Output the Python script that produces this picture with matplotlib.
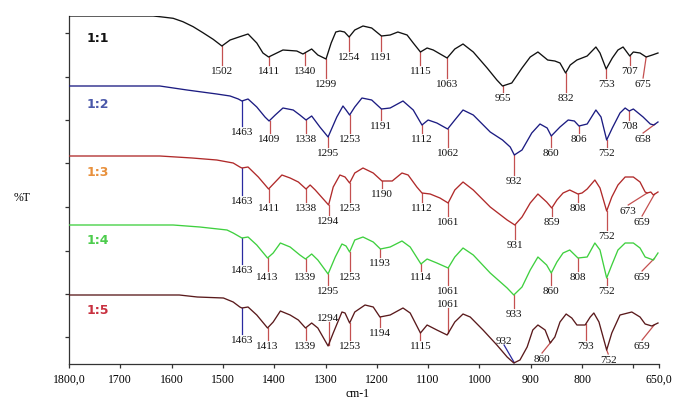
import numpy as np
import matplotlib.pyplot as plt

plt.rcParams['font.family'] = ['Liberation Serif', 'DejaVu Serif']

# ---- spectra (wavenumber cm-1, %T with stacking offset) ----
wn_1 = [1800, 1636, 1623, 1597, 1578, 1558, 1539, 1519, 1502, 1486, 1467, 1451, 1434,
        1422, 1411, 1395, 1383, 1356, 1344, 1327, 1315, 1299, 1289, 1280, 1272, 1263, 1254,
        1243, 1227, 1210, 1191, 1174, 1159, 1141, 1129, 1115, 1102, 1090, 1063, 1048, 1032,
        1012, 985, 966, 955, 937, 917, 901, 886, 867, 853, 843, 832, 823, 810, 790, 773, 765,
        753, 741, 730, 720, 707, 700, 687, 675, 663, 652]
t_1 = [348, 348, 347.3, 345.7, 342.3, 337.3, 331.3, 324.7, 318, 324, 327.3, 330, 321,
       311, 307, 311, 314, 313, 310, 315, 309, 305, 321, 332, 333, 332, 327,
       334, 338, 336, 328, 329, 332, 329, 321, 312, 316, 314, 306, 315, 320,
       312, 296, 284, 278, 281, 296, 307, 312, 304, 303, 301, 291, 299, 304, 308, 317, 311,
       295, 306, 314, 317, 308, 312, 311, 307, 309, 311]
pk_1 = [1502, 1411, 1340, 1299, 1254, 1191, 1115, 1063, 955, 832, 753, 707, 675]

wn_2 = [1800, 1623, 1570, 1512, 1486, 1470, 1463, 1451, 1434, 1418, 1410, 1398, 1383, 1363,
        1350, 1338, 1327, 1311, 1295, 1278, 1266, 1260, 1253, 1243, 1229, 1210, 1191, 1174,
        1149, 1129, 1112, 1100, 1083, 1062, 1048, 1032, 1012, 979, 955, 940, 932, 917, 898,
        882, 868, 860, 843, 827, 815, 806, 790, 773, 763, 752, 741, 726, 716, 708, 700, 681,
        667, 660, 652]
t_2 = [278, 278, 274, 270, 268, 265, 263, 265, 257, 247, 243, 249, 256, 254,
       249, 244, 248, 237, 227, 247, 258, 254, 249, 257, 266, 264, 255, 256,
       263, 254, 239, 244, 241, 235, 244, 254, 249, 232, 224, 217, 209, 214, 231,
       240, 236, 228, 237, 244, 243, 238, 240, 254, 247, 224, 236, 251, 256, 253, 255, 247,
       240, 239, 242]
pk_2 = [1463, 1409, 1338, 1295, 1253, 1191, 1112, 1062, 932, 860, 806, 752, 708, 658]

wn_3 = [1800, 1623, 1560, 1512, 1480, 1467, 1463, 1451, 1431, 1411, 1398, 1385, 1369, 1353,
        1338, 1330, 1320, 1294, 1285, 1272, 1262, 1253, 1243, 1227, 1207, 1190, 1170, 1151,
        1139, 1122, 1112, 1096, 1077, 1061, 1048, 1032, 1012, 979, 946, 931, 917, 901, 886,
        869, 859, 849, 837, 824, 808, 800, 790, 775, 765, 752, 742, 730, 716, 700, 687, 677,
        673, 666, 661, 652]
t_3 = [208, 208, 206, 204, 201, 197, 196, 197, 187, 175, 182, 189, 186, 182,
       175, 179, 174, 159, 177, 189, 187, 181, 191, 196, 191, 183, 183, 191,
       189, 177, 171, 170, 166, 161, 174, 182, 174, 157, 144, 139, 147, 161, 170,
       162, 156, 164, 171, 174, 170, 171, 175, 184, 176, 153, 167, 179, 187, 187, 182, 172,
       171, 172, 169, 172]
pk_3 = [1463, 1411, 1338, 1294, 1253, 1190, 1112, 1061, 931, 859, 808, 752, 673, 659]

wn_4 = [1800, 1597, 1545, 1492, 1480, 1463, 1451, 1434, 1413, 1402, 1388, 1369, 1350, 1339,
        1327, 1315, 1295, 1281, 1268, 1260, 1253, 1243, 1227, 1207, 1193, 1174, 1151, 1135,
        1114, 1102, 1083, 1061, 1048, 1032, 1012, 979, 946, 933, 917, 901, 886, 869, 860,
        849, 837, 824, 808, 790, 775, 765, 752, 742, 730, 716, 700, 687, 677, 661, 652]
t_4 = [139, 139, 137, 134, 131, 126, 127, 119, 106, 111, 121, 117, 109, 105,
       110, 104, 90, 107, 120, 118, 112, 124, 127, 122, 115, 117, 123, 117,
       100, 105, 101, 96, 107, 116, 109, 91, 76, 69, 77, 94, 107, 99, 91,
       102, 111, 114, 106, 107, 121, 114, 86, 99, 114, 121, 121, 116, 107, 104, 111]
pk_4 = [1463, 1413, 1339, 1295, 1253, 1193, 1114, 1061, 933, 860, 808, 752, 659]

wn_5 = [1800, 1585, 1550, 1499, 1480, 1467, 1463, 1451, 1434, 1413, 1402, 1388, 1369, 1353,
        1339, 1327, 1315, 1295, 1285, 1268, 1262, 1253, 1243, 1223, 1207, 1194, 1174, 1149,
        1135, 1115, 1102, 1083, 1063, 1048, 1032, 1018, 993, 966, 946, 933, 921, 907, 896,
        886, 872, 862, 853, 843, 831, 820, 810, 794, 784, 777, 767, 752, 742, 726, 703, 687,
        677, 664, 652]
t_5 = [69, 69, 67, 66, 62, 57, 56, 57, 49, 36, 42, 53, 49, 44,
       36, 41, 36, 18, 31, 52, 51, 41, 52, 59, 57, 47, 49, 56,
       51, 31, 39, 34, 29, 42, 50, 47, 34, 19, 7, 1, 4, 17, 34,
       39, 34, 21, 27, 42, 50, 46, 39, 39, 47, 51, 42, 14, 31, 49, 52, 47,
       40, 38, 41]
pk_5 = [1463, 1413, 1339, 1294, 1253, 1194, 1115, 1061, 932, 860, 793, 752, 659]

names = ['1:1', '1:2', '1:3', '1:4', '1:5']

# ---- layout: label heights (centre of the number) and sideways shifts ----
lab_1 = [294, 294, 294, 281, 308, 308, 294, 281, 267, 267, 281, 294, 281]
lab_2 = [233, 226, 226, 212, 226, 239, 226, 212, 184, 212, 226, 212, 239, 226]
lab_3 = [164, 157, 157, 144, 157, 171, 157, 143, 120, 143, 157, 129, 154, 143]
lab_4 = [95, 88, 88, 74, 88, 102, 88, 74, 51, 74, 88, 74, 88]
lab_5 = [25, 19, 19, 47, 19, 32, 19, 61, 24, 6, 19, 5, 19]
shift = {(1, 675): 681, (2, 658): 681, (3, 673): 710, (3, 659): 683,
         (4, 659): 683, (5, 932): 952, (5, 860): 878, (5, 752): 749, (5, 659): 683}
name_h = [326, 260, 191, 123, 54]

line_col = ['#111111', '#1c1c82', '#b02a2a', '#3fd03f', '#5a1a1c']
name_col = ['#111111', '#4a58aa', '#e8903c', '#4ccc4c', '#c8303f']
mark_col = '#c45050'
blue_mark = '#2a2aa0'

fig = plt.figure(figsize=(6.86, 3.99), dpi=100)
ax = fig.add_axes([69 / 686, 35 / 399, 590 / 686, 348 / 399])

spectra = [(wn_1, t_1, pk_1, lab_1), (wn_2, t_2, pk_2, lab_2), (wn_3, t_3, pk_3, lab_3),
           (wn_4, t_4, pk_4, lab_4), (wn_5, t_5, pk_5, lab_5)]

for i, (wn, t, pk, lab) in enumerate(spectra):
    wn = np.array(wn, dtype=float)
    t = np.array(t, dtype=float)
    ax.plot(wn, t, color=line_col[i], lw=0.95, zorder=3, solid_joinstyle='round')
    ax.text(1743, name_h[i], names[i], color=name_col[i], fontsize=9, fontweight='bold',
            family='DejaVu Sans', ha='center', va='center')
    for p, lh in zip(pk, lab):
        y0 = np.interp(p, wn[::-1], t[::-1])
        lx = shift.get((i + 1, p), p)
        if lh < y0:
            y1 = lh + 5
        else:
            y1 = lh - 5
        col = mark_col
        if p == 1463 or (i == 4 and p == 932):
            col = blue_mark
        ax.plot([p, lx], [y0, y1], color=col, lw=0.9, zorder=2)
        ax.text(lx, lh - 3.6, str(p), fontsize=8, ha='center', va='baseline', color='#111111')

ax.set_xlim(1800, 650)
ax.set_ylim(0, 348)
ax.set_xticks([1800, 1700, 1600, 1500, 1400, 1300, 1200, 1100, 1000, 900, 800, 700, 650])
ax.set_xticklabels(['1800,0', '1700', '1600', '1500', '1400', '1300', '1200', '1100',
                    '1000', '900', '800', '', '650,0'], fontsize=8.5)
ax.set_yticks([27, 70, 113, 157, 201, 244, 287, 331])
ax.set_yticklabels([])
ax.tick_params(axis='both', direction='out', length=3, width=0.9, color='#333333', pad=4)
for s in ['top', 'right']:
    ax.spines[s].set_visible(False)
for s in ['left', 'bottom']:
    ax.spines[s].set_color('#333333')
    ax.spines[s].set_linewidth(0.9)

fig.text(22 / 686, 1 - 198 / 399, '%T', fontsize=8.5, ha='center', va='center')
fig.text(358 / 686, 1 - 394 / 399, 'cm-1', fontsize=8.5, ha='center', va='center')

fig.savefig('out.png', dpi=100)
